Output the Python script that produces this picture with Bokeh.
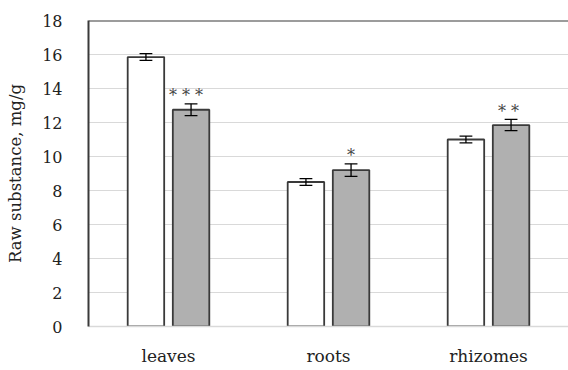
from bokeh.plotting import figure
from bokeh.models import FactorRange, FixedTicker, ColumnDataSource, Span
from bokeh.transform import dodge
from bokeh.core.properties import value
from bokeh.embed import file_html
from bokeh.resources import INLINE

categories = ["leaves", "roots", "rhizomes"]
control = [15.85, 8.5, 11.0]
control_err = [0.2, 0.2, 0.2]
treated = [12.75, 9.2, 11.85]
treated_err = [0.35, 0.37, 0.33]
stars = ["*  *  *", "*", "*  *"]
y_ticks = [0, 2, 4, 6, 8, 10, 12, 14, 16, 18]

src = ColumnDataSource(dict(
    cat=categories,
    c=control, ce=control_err,
    c_lo=[v - e for v, e in zip(control, control_err)],
    c_hi=[v + e for v, e in zip(control, control_err)],
    t=treated, te=treated_err,
    t_lo=[v - e for v, e in zip(treated, treated_err)],
    t_hi=[v + e for v, e in zip(treated, treated_err)],
    stars=stars,
))

FONT = "DejaVu Serif"

p = figure(x_range=FactorRange(*categories, range_padding=0), y_range=(0, 18),
           width=568, height=370, output_backend="svg", toolbar_location=None,
           min_border_left=88, min_border_right=0, min_border_top=20, min_border_bottom=44)
p.x_range.factor_padding = 0

p.outline_line_color = None
p.background_fill_color = "white"
p.border_fill_color = "white"

off = 0.141
bw = 0.228
line_c = "#3a3a3a"

p.vbar(x=dodge("cat", -off, range=p.x_range), top="c", width=bw, bottom=0, source=src,
       fill_color="white", line_color=line_c, line_width=1.8)
p.vbar(x=dodge("cat", off, range=p.x_range), top="t", width=bw, bottom=0, source=src,
       fill_color="#b0b0b0", line_color=line_c, line_width=1.8)

cap = 0.04
for o, lo, hi in [(-off, "c_lo", "c_hi"), (off, "t_lo", "t_hi")]:
    p.segment(x0=dodge("cat", o, range=p.x_range), x1=dodge("cat", o, range=p.x_range),
              y0=lo, y1=hi, source=src, line_color="black", line_width=1.3)
    p.segment(x0=dodge("cat", o - cap, range=p.x_range), x1=dodge("cat", o + cap, range=p.x_range),
              y0=lo, y1=lo, source=src, line_color="black", line_width=1.3)
    p.segment(x0=dodge("cat", o - cap, range=p.x_range), x1=dodge("cat", o + cap, range=p.x_range),
              y0=hi, y1=hi, source=src, line_color="black", line_width=1.3)

p.text(x=dodge("cat", off, range=p.x_range), y="t_hi", text="stars", source=src,
       text_font=value(FONT), text_font_size="16px", text_color="#444444",
       text_align="center", text_baseline="middle", y_offset=-8)

p.xgrid.grid_line_color = None
p.ygrid.grid_line_color = "#d9d9d9"
p.ygrid.grid_line_width = 1
p.ygrid.ticker = FixedTicker(ticks=y_ticks[1:-1])

p.add_layout(Span(location=18, dimension="width", line_color=line_c, line_width=2))

p.yaxis.ticker = FixedTicker(ticks=y_ticks)
p.yaxis.axis_line_color = line_c
p.yaxis.axis_line_width = 2
p.yaxis.major_tick_line_color = None
p.yaxis.minor_tick_line_color = None
p.yaxis.major_label_text_font = FONT
p.yaxis.major_label_text_font_size = "16px"
p.yaxis.major_label_text_color = "#222222"
p.yaxis.major_label_standoff = 20
p.yaxis.axis_label = "Raw substance, mg/g"
p.yaxis.axis_label_text_font = FONT
p.yaxis.axis_label_text_font_size = "16.5px"
p.yaxis.axis_label_text_font_style = "normal"
p.yaxis.axis_label_text_color = "#222222"
p.yaxis.axis_label_standoff = 14

p.xaxis.axis_line_color = "#d9d9d9"
p.xaxis.axis_line_width = 1.5
p.xaxis.major_tick_line_color = None
p.xaxis.minor_tick_line_color = None
p.xaxis.major_label_text_font = FONT
p.xaxis.major_label_text_font_size = "17px"
p.xaxis.major_label_text_color = "#222222"
p.xaxis.major_label_standoff = 13

open("out.html", "w").write(file_html(p, INLINE))
